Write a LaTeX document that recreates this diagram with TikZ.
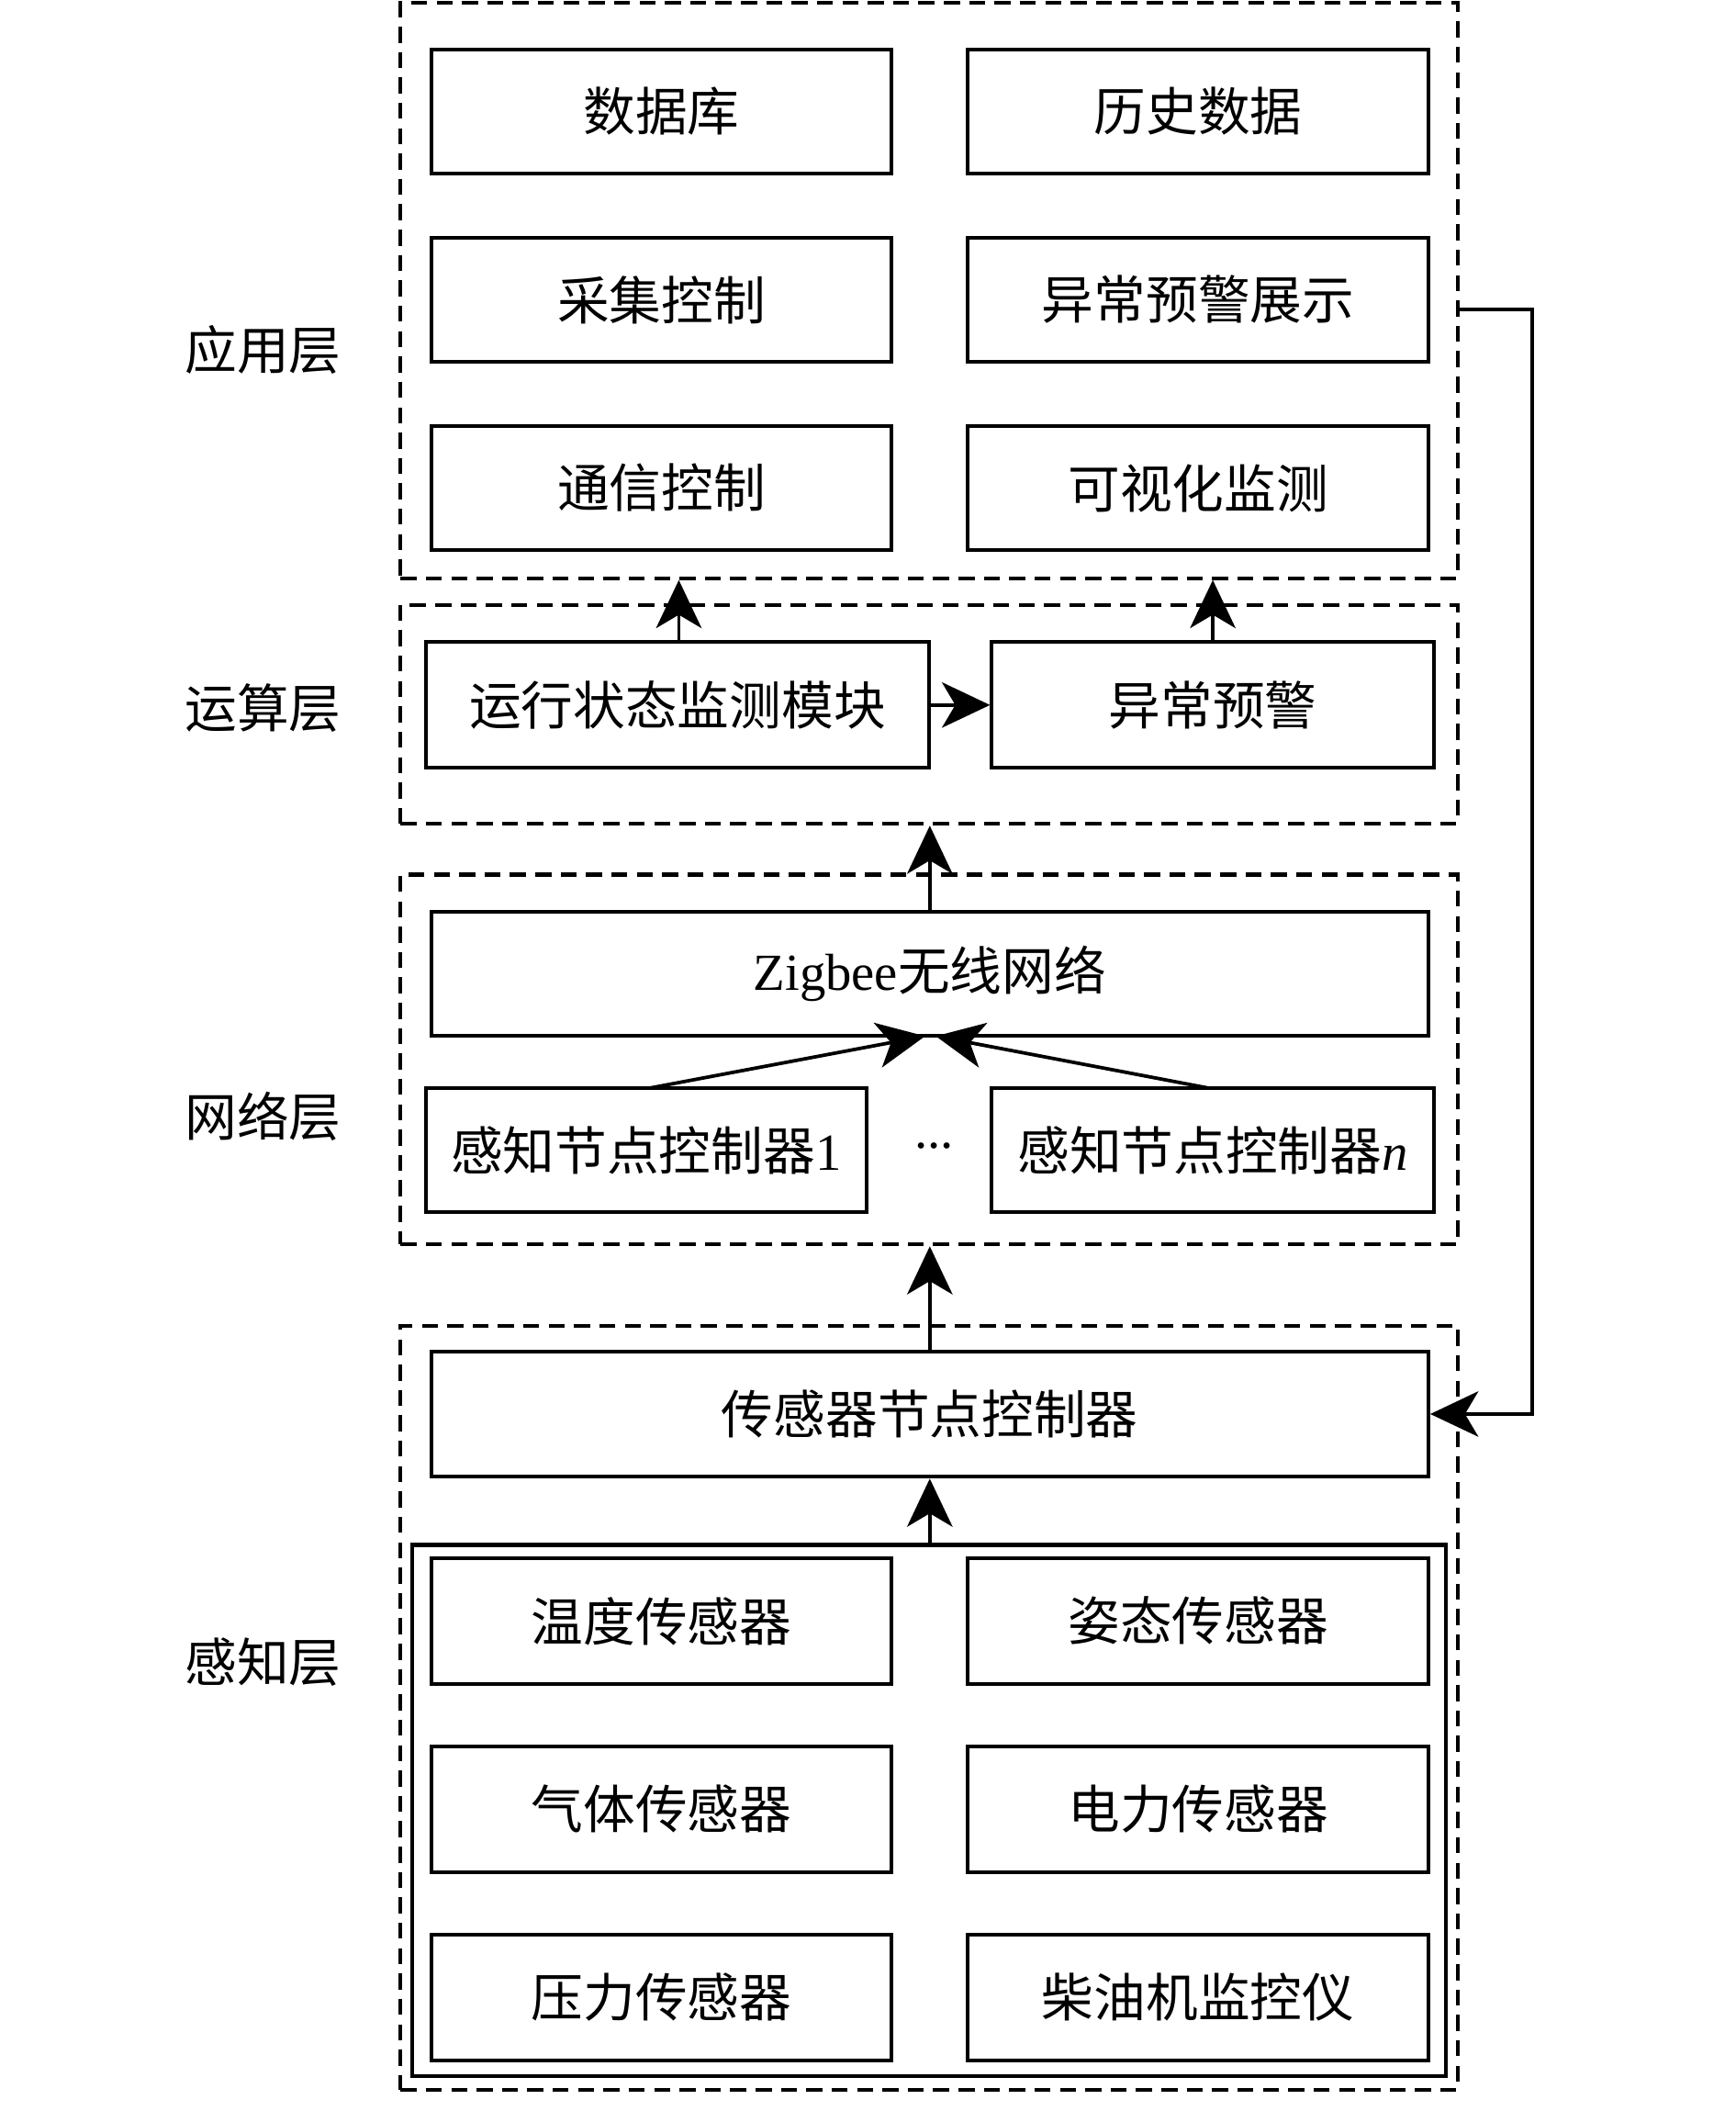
\documentclass[tikz,border=0pt]{standalone}
\usepackage{fontspec}
\setmainfont{Liberation Serif}
\newfontfamily\cjk{Noto Sans CJK SC}
\usetikzlibrary{arrows.meta}
\newcommand\bx[7]{\node[#7, minimum width={(#4-#2)*0.5pt}, minimum height={(#5-#3)*0.5pt}] (#1) at ({(#2+#4)/2},{(#3+#5)/2}) {#6};}
\begin{document}
\begin{tikzpicture}[x=0.5pt,y=-0.5pt,
  box/.style={draw, line width=1.4pt, inner sep=0pt, font=\fontsize{19.5}{23}\selectfont\cjk},
  dbox/.style={draw, line width=1.4pt, dash pattern=on 6pt off 3.5pt, inner sep=0pt},
  sbox/.style={draw, line width=1.4pt, inner sep=0pt},
  arr/.style={line width=1.3pt, -{Stealth[length=18pt,width=17pt,inset=5pt]}},
  lay/.style={font=\fontsize{19.5}{23}\selectfont\cjk, inner sep=0pt}]
\useasboundingbox (0,0) rectangle (1300,1581);
% dashed layer boxes
\bx{app}{300}{2}{1092}{433}{}{dbox}
\bx{calc}{300}{453}{1092}{617}{}{dbox}
\bx{net}{300}{655}{1092}{932}{}{dbox}
\bx{per}{300}{993}{1092}{1565}{}{dbox}
% application layer
\bx{db}{323}{37}{668}{130}{数据库}{box}
\bx{hist}{725}{37}{1070}{130}{历史数据}{box}
\bx{coll}{323}{178}{668}{271}{采集控制}{box}
\bx{warnshow}{725}{178}{1070}{271}{异常预警展示}{box}
\bx{comm}{323}{319}{668}{412}{通信控制}{box}
\bx{vis}{725}{319}{1070}{412}{可视化监测}{box}
% calculation layer
\bx{run}{319}{481}{696}{575}{运行状态监测模块}{box}
\bx{warn}{743}{481}{1074}{575}{异常预警}{box}
% network layer
\bx{zig}{323}{683}{1070}{776}{{\rmfamily Zigbee}无线网络}{box}
\bx{c1}{319}{815}{649}{908}{感知节点控制器{\rmfamily 1}}{box}
\bx{cn}{743}{815}{1074}{908}{感知节点控制器{\rmfamily\itshape n}}{box}
\node[font=\fontsize{19.5}{23}\selectfont, inner sep=0pt] (dots) at (700,858) {...};
% perception layer
\bx{sc}{323}{1012}{1070}{1106}{传感器节点控制器}{box}
\bx{inner}{309}{1157}{1083}{1555}{}{sbox}
\bx{s1}{323}{1167}{668}{1261}{温度传感器}{box}
\bx{s2}{725}{1167}{1070}{1261}{姿态传感器}{box}
\bx{s3}{323}{1308}{668}{1402}{气体传感器}{box}
\bx{s4}{725}{1308}{1070}{1402}{电力传感器}{box}
\bx{s5}{323}{1449}{668}{1543}{压力传感器}{box}
\bx{s6}{725}{1449}{1070}{1543}{柴油机监控仪}{box}
% layer labels
\node[lay] (l1) at (197,262) {应用层};
\node[lay] (l2) at (197,530) {运算层};
\node[lay] (l3) at (197,836) {网络层};
\node[lay] (l4) at (197,1245) {感知层};
% arrows
\draw[arr] ([xshift=0.5pt]run.north) -- ([xshift=0.5pt]run.north |- app.south);
\draw[arr] (warn.north) -- (warn.north |- app.south);
\draw[arr] (run.east) -- (warn.west);
\draw[arr] (zig.north) -- (zig.north |- calc.south);
\coordinate (t1) at (693,776);
\coordinate (t2) at (701,776);
\draw[arr] (486,815) -- (t1);
\draw[arr] (906,815) -- (t2);
\draw[arr] (sc.north) -- (sc.north |- net.south);
\draw[arr] (inner.north -| sc.south) -- (sc.south);
\coordinate (fb) at (1092,232);
\coordinate (fbr) at (1148,232);
\draw[arr] (fb) -- (fbr) -- (fbr |- sc.east) -- (sc.east);
\end{tikzpicture}
\end{document}
